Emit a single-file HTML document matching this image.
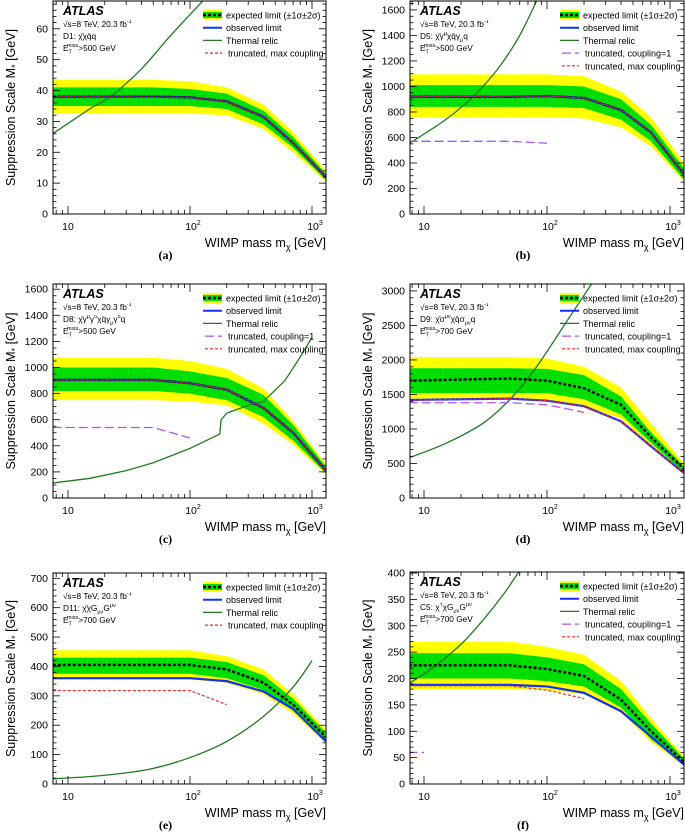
<!DOCTYPE html>
<html><head><meta charset="utf-8">
<style>
body{margin:0;background:#fff;}
svg{display:block;font-family:"Liberation Sans",sans-serif;}
</style></head>
<body>
<svg id="fig" width="685" height="837" viewBox="0 0 685 837" xmlns="http://www.w3.org/2000/svg"></svg>
<script>
// ---------- data ----------
const masses = [7.5, 50, 100, 200, 400, 700, 1300];
// panel a (D1)
const aExp = [38, 38, 37.8, 36.5, 31.5, 23, 12];
const aObs = [38, 38, 37.8, 36.5, 31.5, 23, 12];
const aS1u = [41, 41, 40.5, 39, 33.5, 25, 13];
const aS1d = [35, 35, 35, 34, 29, 21.5, 11];
const aS2u = [43.5, 43.5, 43, 41, 35.5, 26.5, 14];
const aS2d = [32.5, 32.5, 32.5, 32, 27.5, 20, 10.5];
const aTrMaxM = [7.5, 100, 200, 400, 700, 1300];
const aTrMax = [38, 37.8, 36.5, 31.5, 23, 12];
const aThM = [7.5, 15, 23, 40, 70, 127];
const aTh = [26, 34, 38.5, 47, 58, 69];
// panel b (D5)
const bExp = [920, 920, 925, 910, 815, 640, 310];
const bObs = [920, 920, 925, 910, 815, 640, 310];
const bS1u = [1010, 1010, 1010, 1000, 900, 700, 360];
const bS1d = [840, 840, 840, 830, 740, 570, 270];
const bS2u = [1095, 1095, 1095, 1080, 960, 760, 400];
const bS2d = [760, 760, 760, 750, 680, 530, 260];
const bC1M = [7.5, 50, 100];
const bC1 = [570, 570, 555];
const bTrMaxM = [7.5, 100, 200, 400, 700, 1300];
const bTrMax = [920, 925, 910, 815, 640, 310];
const bThM = [7.5, 15, 25, 40, 60, 85];
const bTh = [550, 740, 920, 1140, 1400, 1700];
// panel c (D8)
const cExp = [905, 905, 880, 830, 690, 500, 210];
const cObs = [905, 905, 880, 830, 690, 500, 210];
const cS1u = [1000, 1000, 970, 920, 790, 560, 240];
const cS1d = [820, 820, 800, 750, 620, 440, 190];
const cS2u = [1075, 1075, 1050, 990, 840, 590, 260];
const cS2d = [750, 750, 740, 710, 570, 410, 180];
const cC1M = [7.5, 50, 100];
const cC1 = [540, 540, 460];
const cTrMaxM = [7.5, 50, 100, 200, 400, 700, 1300];
const cTrMax = [905, 905, 880, 830, 690, 500, 210];
const cThM = [7.5, 15, 30, 50, 100, 175, 180, 200, 300, 400, 600, 800, 1000];
const cTh = [115, 150, 210, 270, 380, 490, 600, 650, 710, 740, 900, 1080, 1230];
// panel d (D9)
const dExp = [1700, 1730, 1700, 1590, 1350, 880, 420];
const dObs = [1420, 1440, 1410, 1330, 1110, 750, 360];
const dS1u = [1880, 1880, 1870, 1780, 1470, 950, 460];
const dS1d = [1520, 1520, 1520, 1430, 1210, 800, 370];
const dS2u = [2040, 2040, 2020, 1900, 1600, 1080, 500];
const dS2d = [1440, 1440, 1420, 1330, 1150, 740, 350];
const dC1M = [7.5, 50, 100, 200];
const dC1 = [1380, 1380, 1350, 1240];
const dTrMaxM = [7.5, 50, 100, 200, 400, 700, 1300];
const dTrMax = [1420, 1440, 1410, 1330, 1110, 750, 360];
const dThM = [7.5, 15, 30, 50, 80, 150, 230];
const dTh = [580, 790, 1080, 1430, 1870, 2600, 3100];
// panel e (D11)
const eExp = [405, 405, 405, 390, 345, 270, 160];
const eObs = [360, 360, 360, 350, 315, 255, 145];
const eS1u = [430, 430, 430, 415, 370, 290, 175];
const eS1d = [375, 375, 375, 360, 320, 250, 150];
const eS2u = [455, 455, 455, 435, 390, 305, 185];
const eS2d = [355, 355, 355, 345, 305, 240, 140];
const eTrMaxM = [7.5, 100, 200];
const eTrMax = [318, 318, 270];
const eThM = [7.5, 15, 30, 50, 100, 200, 400, 700, 1000];
const eTh = [18, 25, 38, 53, 90, 145, 230, 330, 420];
// panel f (C5)
const fExp = [225, 225, 218, 205, 160, 100, 42];
const fObs = [188, 188, 185, 173, 138, 90, 37];
const fS1u = [248, 248, 240, 227, 180, 115, 48];
const fS1d = [200, 200, 195, 185, 145, 85, 36];
const fS2u = [270, 270, 260, 245, 195, 125, 52];
const fS2d = [180, 180, 178, 170, 135, 80, 34];
const fC1M = [7.5, 10];
const fC1 = [60, 60];
const fTrMaxM = [7.5, 50, 100, 200];
const fTrMax = [186, 186, 178, 162];
const fThM = [7.5, 12, 20, 30, 45, 60];
const fTh = [190, 222, 265, 310, 362, 405];

// ---------- layout ----------
const NS = "http://www.w3.org/2000/svg";
const svg = document.getElementById('fig');
function mk(tag, attrs, parent){const e=document.createElementNS(NS,tag);for(const k in attrs)e.setAttribute(k,attrs[k]);(parent||svg).appendChild(e);return e;}

const panels = [
 {id:'a',L:53,R:326,T:1,B:214,x10:68,dec:122,ymax:69,step:10,minor:2,ticks:[0,10,20,30,40,50,60],model:'D1: χ̄χq̄q',met:'500',exp:aExp,obs:aObs,s1u:aS1u,s1d:aS1d,s2u:aS2u,s2d:aS2d,trM:aTrMaxM,tr:aTrMax,thM:aThM,th:aTh,c1M:null,c1:null,smooth:true},
 {id:'b',L:410,R:684,T:1,B:214,x10:424,dec:123,ymax:1670,step:200,minor:50,ticks:[0,200,400,600,800,1000,1200,1400,1600],model:'D5: χ̄γ<sup>μ</sup>χq̄γ<sub>μ</sub>q',met:'500',exp:bExp,obs:bObs,s1u:bS1u,s1d:bS1d,s2u:bS2u,s2d:bS2d,trM:bTrMaxM,tr:bTrMax,thM:bThM,th:bTh,c1M:bC1M,c1:bC1,smooth:true},
 {id:'c',L:53,R:326,T:284,B:498,x10:68,dec:122,ymax:1640,step:200,minor:50,ticks:[0,200,400,600,800,1000,1200,1400,1600],model:'D8: χ̄γ<sup>μ</sup>γ<sup>5</sup>χq̄γ<sub>μ</sub>γ<sup>5</sup>q',met:'500',exp:cExp,obs:cObs,s1u:cS1u,s1d:cS1d,s2u:cS2u,s2d:cS2d,trM:cTrMaxM,tr:cTrMax,thM:cThM,th:cTh,c1M:cC1M,c1:cC1,smooth:false},
 {id:'d',L:410,R:684,T:284,B:498,x10:424,dec:123,ymax:3100,step:500,minor:100,ticks:[0,500,1000,1500,2000,2500,3000],model:'D9: χ̄σ<sup>μν</sup>χq̄σ<sub>μν</sub>q',met:'700',exp:dExp,obs:dObs,s1u:dS1u,s1d:dS1d,s2u:dS2u,s2d:dS2d,trM:dTrMaxM,tr:dTrMax,thM:dThM,th:dTh,c1M:dC1M,c1:dC1,smooth:true},
 {id:'e',L:53,R:326,T:573,B:784,x10:68,dec:122,ymax:718,step:100,minor:20,ticks:[0,100,200,300,400,500,600,700],model:'D11: χ̄χG<sub>μν</sub>G<sup>μν</sup>',met:'700',exp:eExp,obs:eObs,s1u:eS1u,s1d:eS1d,s2u:eS2u,s2d:eS2d,trM:eTrMaxM,tr:eTrMax,thM:eThM,th:eTh,c1M:null,c1:null,smooth:true},
 {id:'f',L:410,R:684,T:572,B:784,x10:424,dec:123,ymax:402,step:50,minor:10,ticks:[0,50,100,150,200,250,300,350,400],model:'C5: χ<sup>†</sup>χG<sub>μν</sub>G<sup>μν</sup>',met:'700',exp:fExp,obs:fObs,s1u:fS1u,s1d:fS1d,s2u:fS2u,s2d:fS2d,trM:fTrMaxM,tr:fTrMax,thM:fThM,th:fTh,c1M:fC1M,c1:fC1,smooth:true}
];

function htmlText(parent,x,y,size,html,extra){
  const fo=mk('foreignObject',{x:x,y:y-size,width:220,height:size*1.9},parent);
  const d=document.createElement('div');
  d.setAttribute('style','font-family:"Liberation Sans",sans-serif;font-size:'+size+'px;line-height:1;white-space:nowrap;color:#000;'+(extra||''));
  d.innerHTML=html;fo.appendChild(d);return fo;
}
function smoothPath(pts){
  let d='M'+pts[0][0]+','+pts[0][1];
  for(let i=0;i<pts.length-1;i++){
    const p0=pts[i-1]||pts[i],p1=pts[i],p2=pts[i+1],p3=pts[i+2]||p2;
    const c1=[p1[0]+(p2[0]-p0[0])/6,p1[1]+(p2[1]-p0[1])/6];
    const c2=[p2[0]-(p3[0]-p1[0])/6,p2[1]-(p3[1]-p1[1])/6];
    d+=' C'+c1[0]+','+c1[1]+' '+c2[0]+','+c2[1]+' '+p2[0]+','+p2[1];
  }
  return d;
}

panels.forEach(p=>{
  const g=mk('g',{});
  
  
  const X=m=>p.x10+(Math.log10(m)-1)*p.dec;
  const Y=v=>p.B-(v/p.ymax)*(p.B-p.T);
  const cp=mk('clipPath',{id:'clip-'+p.id},g);
  mk('rect',{x:p.L,y:p.T,width:p.R-p.L,height:p.B-p.T},cp);
  const pg=mk('g',{'clip-path':'url(#clip-'+p.id+')'},g);
  const band=(up,dn,col,name)=>{
    let pts=masses.map((m,i)=>X(m)+','+Y(up[i]));
    for(let i=masses.length-1;i>=0;i--)pts.push(X(masses[i])+','+Y(dn[i]));
    const el=mk('polygon',{points:pts.join(' '),fill:col},pg);
    
    
  };
  band(p.s2u,p.s2d,'#ffff00','band-2sigma');
  band(p.s1u,p.s1d,'#00dd00','band-1sigma');
  const line=(ms,vs,attrs,name)=>{
    const el=mk('polyline',Object.assign({points:ms.map((m,i)=>X(m)+','+Y(vs[i])).join(' '),fill:'none'},attrs),pg);
    
    
  };
  if(p.smooth){
    const th=mk('path',{d:smoothPath(p.thM.map((m,i)=>[X(m),Y(p.th[i])])),fill:'none',stroke:'#1f7a1f','stroke-width':1.3},pg);
    
    
  } else line(p.thM,p.th,{stroke:'#1f7a1f','stroke-width':1.3},'thermal-relic-line');
  line(masses,p.obs,{stroke:'#1030ff','stroke-width':2.2},'observed-limit-line');
  line(masses,p.exp,{stroke:'#000','stroke-width':2.4,'stroke-dasharray':'3,2'},'expected-limit-line');
  if(p.c1M) line(p.c1M,p.c1,{stroke:'#a855f7','stroke-width':1.3,'stroke-dasharray':'9,4'},'truncated-coupling1-line');
  line(p.trM,p.tr,{stroke:'#ff2020','stroke-width':1.2,'stroke-dasharray':'3,2'},'truncated-max-coupling-line');
  const fr=mk('rect',{x:p.L,y:p.T,width:p.R-p.L,height:p.B-p.T,fill:'none',stroke:'#000','stroke-width':1},g);
  
  
  for(let v=0;v<=p.ymax;v+=p.minor){
    const major=Math.abs(v/p.step-Math.round(v/p.step))<1e-6;
    const len=major?7:3.5,y=Y(v);
    mk('line',{x1:p.L,x2:p.L+len,y1:y,y2:y,stroke:'#000','stroke-width':0.8},g);
    mk('line',{x1:p.R,x2:p.R-len,y1:y,y2:y,stroke:'#000','stroke-width':0.8},g);
  }
  p.ticks.forEach(v=>{
    const t=mk('text',{x:p.L-5,y:Y(v)+3.5,'font-size':10.5,'text-anchor':'end'},g);
    t.textContent=v;
    
    
  });
  for(let d=1;d<=1000;d*=10){for(let k=1;k<10;k++){const m=d*k;if(m<7||m>1400)continue;const x=X(m);if(x<p.L||x>p.R)continue;const len=k===1?8:4;
    mk('line',{x1:x,x2:x,y1:p.B,y2:p.B-len,stroke:'#000','stroke-width':0.8},g);
    mk('line',{x1:x,x2:x,y1:p.T,y2:p.T+len,stroke:'#000','stroke-width':0.8},g);}}
  [[10,'10'],[100,'10<tspan dy="-5" font-size="7">2</tspan>'],[1000,'10<tspan dy="-5" font-size="7">3</tspan>']].forEach(([m,l])=>{
    const t=mk('text',{x:X(m)+(m>10?3:0),y:p.B+16,'font-size':10.5,'text-anchor':'middle'},g);
    t.innerHTML=l;
    
    
  });
  const xt=mk('text',{x:p.R,y:p.B+33,'font-size':12.5,'text-anchor':'end'},g);
  xt.innerHTML='WIMP mass m<tspan dy="3" font-size="9">χ</tspan><tspan dy="-3"> [GeV]</tspan>';
  
  
  const yc=(p.T+p.B)/2, yx=p.L-38;
  const yt=mk('text',{x:yx,y:yc,'font-size':12.5,'text-anchor':'middle',transform:'rotate(-90 '+yx+' '+yc+')'},g);
  yt.innerHTML='Suppression Scale M<tspan dy="3" font-size="9">*</tspan><tspan dy="-3"> [GeV]</tspan>';
  
  
  const pl=mk('text',{x:(p.L+p.R)/2-24,y:p.B+45,'font-size':12,'font-weight':'bold','font-family':'"Liberation Serif",serif','text-anchor':'middle'},g);
  pl.textContent='('+p.id+')';
  
  
  const at=mk('text',{x:p.L+10,y:p.T+14,'font-size':12.5,'font-weight':'bold','font-style':'italic'},g);
  at.textContent='ATLAS';
  
  
  const sup='<sup style="font-size:5.5px">', sub='<sub style="font-size:5.5px">';
  const i1=htmlText(g,p.L+10,p.T+27,8.3,'√s=8 TeV, 20.3 fb'+sup+'-1</sup>');
  
  
  const i2=htmlText(g,p.L+10,p.T+39,8.3,p.model.replace(/<sup>/g,sup).replace(/<sub>/g,sub));
  
  
  const i3=htmlText(g,p.L+10,p.T+51,8.3,'E'+sub+'T</sub><sup style="font-size:5.5px;margin-left:-5px">miss</sup>&gt;'+p.met+' GeV');
  
  
  const lx=p.L+150, ly=p.T+14;
  const entries=[['expected limit (±1σ±2σ)','exp'],['observed limit','obs'],['Thermal relic','th']];
  if(p.c1M) entries.push(['truncated, coupling=1','c1']);
  entries.push(['truncated, max coupling','tr']);
  entries.forEach((e,i)=>{
    const y=ly+i*12.7;
    const lg=mk('g',{},g);
    
    
    if(e[1]==='exp'){mk('rect',{x:lx,y:y-5,width:19,height:10,fill:'#ffff00'},lg);mk('rect',{x:lx,y:y-3,width:19,height:6,fill:'#00dd00'},lg);
      mk('line',{x1:lx,x2:lx+19,y1:y,y2:y,stroke:'#000','stroke-width':2.4,'stroke-dasharray':'3,2'},lg);}
    if(e[1]==='obs')mk('line',{x1:lx,x2:lx+19,y1:y,y2:y,stroke:'#1030ff','stroke-width':2},lg);
    if(e[1]==='th')mk('line',{x1:lx,x2:lx+19,y1:y,y2:y,stroke:'#1f7a1f','stroke-width':1.3},lg);
    if(e[1]==='c1')mk('line',{x1:lx+2,x2:lx+19,y1:y,y2:y,stroke:'#a855f7','stroke-width':1.3,'stroke-dasharray':'9,4'},lg);
    if(e[1]==='tr')mk('line',{x1:lx+2,x2:lx+19,y1:y,y2:y,stroke:'#ff2020','stroke-width':1.2,'stroke-dasharray':'3,2'},lg);
    const t=mk('text',{x:lx+23+(e[1]==='c1'||e[1]==='tr'?2:0),y:y+3.5,'font-size':9},lg);
    t.textContent=e[0];
  });
});
</script>
</body></html>
